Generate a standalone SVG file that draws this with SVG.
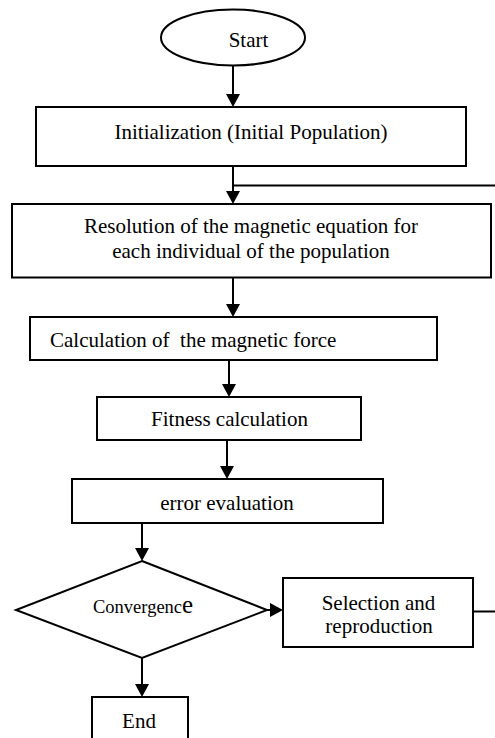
<svg xmlns="http://www.w3.org/2000/svg" width="495" height="738" viewBox="0 0 495 738">
<style>
.box{fill:#fff;stroke:#000;stroke-width:2}
.ln{fill:none;stroke:#000;stroke-width:2}
.arr{marker-end:url(#ah)}
text{font-family:"Liberation Serif","Times New Roman",serif;font-size:21px;fill:#000}
.c{text-anchor:middle}
</style>
<defs>
<marker id="ah" markerUnits="userSpaceOnUse" markerWidth="14" markerHeight="14" refX="0" refY="7" orient="auto" viewBox="0 0 14 14">
<path d="M0,0 L13,7 L0,14 Z" fill="#000"/>
</marker>
</defs>
<rect width="495" height="738" fill="#fff"/>
<g id="connectors">
<line class="ln arr" x1="233" y1="66" x2="233" y2="94"/>
<line class="ln arr" x1="233" y1="166" x2="233" y2="191"/>
<line class="ln" x1="233" y1="185.5" x2="495" y2="185.5"/>
<line class="ln arr" x1="233" y1="278" x2="233" y2="304"/>
<line class="ln arr" x1="229" y1="360" x2="229" y2="384"/>
<line class="ln arr" x1="227" y1="440" x2="227" y2="466"/>
<line class="ln arr" x1="142" y1="520" x2="142" y2="548"/>
<line class="ln arr" x1="267" y1="610" x2="270" y2="610"/>
<line class="ln" x1="473" y1="611.5" x2="495" y2="611.5"/>
<line class="ln arr" x1="142" y1="658" x2="142" y2="684"/>
</g>
<g id="start">
<ellipse class="box" cx="233" cy="37.5" rx="72" ry="28"/>
<text class="c" x="248.5" y="47">Start</text>
</g>
<g id="init">
<rect class="box" x="36" y="107" width="430" height="59"/>
<text class="c" x="251" y="139">Initialization (Initial Population)</text>
</g>
<g id="resolution">
<rect class="box" x="12" y="204" width="479" height="73.5"/>
<text class="c" x="251" y="233">Resolution of the magnetic equation for</text>
<text class="c" x="251" y="258">each individual of the population</text>
</g>
<g id="force">
<rect class="box" x="30" y="317" width="407" height="43"/>
<text x="50" y="347" xml:space="preserve" style="white-space:pre">Calculation of  the magnetic force</text>
</g>
<g id="fitness">
<rect class="box" x="97" y="397" width="264" height="43"/>
<text class="c" x="229.5" y="426">Fitness calculation</text>
</g>
<g id="error">
<rect class="box" x="72" y="479" width="311" height="44"/>
<text class="c" x="227" y="510">error evaluation</text>
</g>
<g id="convergence">
<polygon class="box" points="142,561 267,610 142,658 16,610"/>
<text x="93" y="613" style="font-size:18.5px">Convergenc<tspan style="font-size:25px">e</tspan></text>
</g>
<g id="selection">
<rect class="box" x="283" y="578" width="190" height="69"/>
<text class="c" x="378.5" y="610">Selection and</text>
<text class="c" x="379" y="633">reproduction</text>
</g>
<g id="end">
<rect class="box" x="92" y="697" width="96" height="50"/>
<text class="c" x="139" y="728">End</text>
</g>
</svg>
